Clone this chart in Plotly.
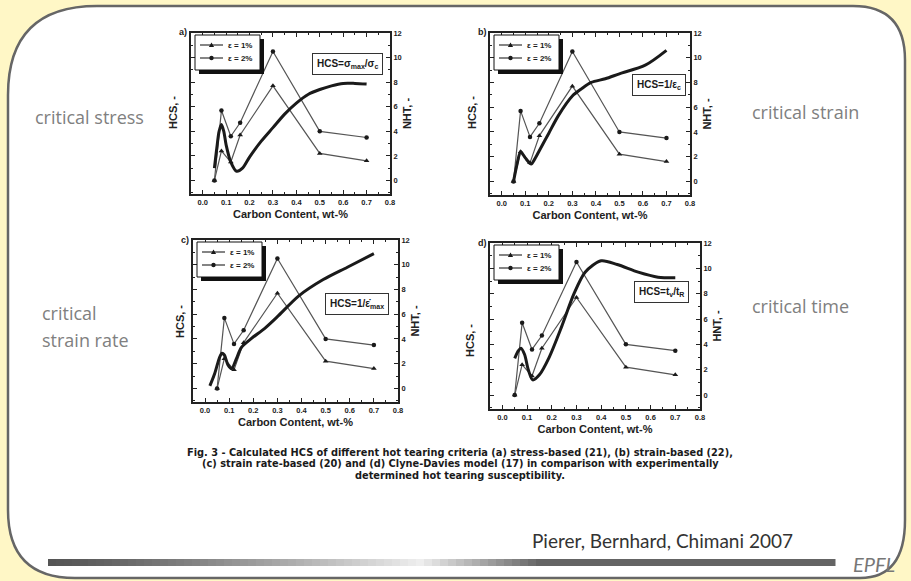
import plotly.graph_objects as go

W, H = 911, 581

def px(x):
    return x / W

def py(y):
    return 1 - y / H

# ---------------- data ----------------
carbon = [0.05, 0.08, 0.12, 0.16, 0.30, 0.50, 0.70]
nht_eps1 = [0.0, 2.4, 1.5, 3.7, 7.7, 2.2, 1.6]
nht_eps2 = [0.0, 5.7, 3.6, 4.7, 10.5, 4.0, 3.5]

hcs_a_x = [0.05, 0.06, 0.07, 0.08, 0.09, 0.10, 0.12, 0.145, 0.17, 0.20, 0.25, 0.30, 0.35, 0.40, 0.45, 0.50, 0.55, 0.60, 0.65, 0.70]
hcs_a_y = [1.0, 2.6, 4.0, 4.55, 4.0, 2.9, 1.5, 0.75, 1.0, 1.9, 3.2, 4.3, 5.4, 6.3, 7.0, 7.4, 7.7, 7.9, 7.9, 7.85]

hcs_b_x = [0.05, 0.065, 0.08, 0.10, 0.125, 0.14, 0.16, 0.20, 0.24, 0.30, 0.34, 0.38, 0.44, 0.50, 0.61, 0.70]
hcs_b_y = [0.0, 1.4, 2.4, 1.9, 1.4, 1.8, 2.5, 3.9, 5.3, 6.9, 7.5, 8.0, 8.3, 8.7, 9.4, 10.6]

hcs_c_x = [0.02, 0.04, 0.06, 0.07, 0.08, 0.095, 0.11, 0.13, 0.15, 0.19, 0.25, 0.30, 0.39, 0.49, 0.59, 0.70]
hcs_c_y = [0.2, 1.2, 2.5, 2.85, 2.7, 1.9, 1.6, 2.4, 3.3, 4.0, 4.9, 5.8, 7.5, 8.8, 9.8, 10.9]

hcs_d_x = [0.05, 0.065, 0.075, 0.09, 0.105, 0.123, 0.15, 0.19, 0.24, 0.29, 0.335, 0.40, 0.465, 0.55, 0.63, 0.70]
hcs_d_y = [2.9, 3.5, 3.7, 3.2, 2.0, 1.2, 1.6, 3.0, 5.4, 8.0, 9.7, 10.6, 10.3, 9.7, 9.3, 9.25]

xtick_vals = [0.0, 0.1, 0.2, 0.3, 0.4, 0.5, 0.6, 0.7, 0.8]
xtick_text = ["0.0", "0.1", "0.2", "0.3", "0.4", "0.5", "0.6", "0.7", "0.8"]
ytick_vals = [0, 2, 4, 6, 8, 10, 12]

panel_letters = ["a)", "b)", "c)", "d)"]
formulas = ["HCS=σ<sub>max</sub>/σ<sub>c</sub>", "HCS=1/ε<sub>c</sub>",
            "HCS=1/ε̇<sub>max</sub>", "HCS=t<sub>v</sub>/t<sub>R</sub>"]
right_titles = ["NHT, -", "NHT, -", "NHT, -", "HNT, -"]
legend_names = ["ε = 1%", "ε = 2%"]
side_labels = ["critical stress", "critical strain", "critical", "strain rate", "critical time"]
caption_lines = [
    "Fig. 3 - Calculated HCS of different hot tearing criteria (a) stress-based (21), (b) strain-based (22),",
    "(c) strain rate-based (20) and (d) Clyne-Davies model (17) in comparison with experimentally",
    "determined hot tearing susceptibility.",
]
source = "Pierer, Bernhard, Chimani 2007"

hcs_x = [hcs_a_x, hcs_b_x, hcs_c_x, hcs_d_x]
hcs_y = [hcs_a_y, hcs_b_y, hcs_c_y, hcs_d_y]

# ---------------- layout geometry (pixels) ----------------
# (left, right, top, bottom)
boxes = [(191, 390, 33, 194), (490, 690, 33, 195), (193, 398, 240, 402), (490, 700, 243, 409)]
formula_pos = [(347, 64), (659, 85), (357, 304), (661, 292)]
hcs_title_pos = [(173, 113), (472, 113), (180, 322), (470, 340)]
letter_pos = [(183, 32), (482, 32), (185, 240), (482, 243)]

FONT = "Liberation Sans"
INK = "#1a1a1a"
fig = go.Figure()

for i in range(4):
    xa = "x" if i == 0 else f"x{i+1}"
    ya = "y" if i == 0 else f"y{i+1}"
    fig.add_trace(go.Scatter(x=carbon, y=nht_eps1, xaxis=xa, yaxis=ya, mode="lines+markers",
                             name=legend_names[0], showlegend=False,
                             line=dict(color="#555555", width=1.2),
                             marker=dict(symbol="triangle-up", size=5, color=INK)))
    fig.add_trace(go.Scatter(x=carbon, y=nht_eps2, xaxis=xa, yaxis=ya, mode="lines+markers",
                             name=legend_names[1], showlegend=False,
                             line=dict(color="#555555", width=1.2),
                             marker=dict(symbol="circle", size=4.5, color=INK)))
    fig.add_trace(go.Scatter(x=hcs_x[i], y=hcs_y[i], xaxis=xa, yaxis=ya, mode="lines",
                             line=dict(color=INK, width=3, shape="spline", smoothing=0.8),
                             showlegend=False, hoverinfo="skip"))

layout = dict(
    template="none",
    width=W, height=H, margin=dict(l=0, r=0, t=0, b=0, pad=0),
    paper_bgcolor="#FFF7C6", plot_bgcolor="rgba(0,0,0,0)",
    showlegend=False,
)

tickfont = dict(family=FONT, size=7.5, color="#222", weight="bold")
for i, (l, r, t, b) in enumerate(boxes):
    sx = "" if i == 0 else str(i + 1)
    layout[f"xaxis{sx}"] = dict(
        domain=[px(l), px(r)], anchor=f"y{sx}", range=[-0.05, 0.8], automargin=False,
        tickvals=xtick_vals, ticktext=xtick_text, ticks="inside", ticklen=4, tickwidth=1,
        tickcolor="#222",
        minor=dict(dtick=0.05, ticks="inside", ticklen=2, tickcolor="#222"),
        showline=True, linecolor="#222", linewidth=1.8, mirror="ticks", showgrid=False,
        zeroline=False, tickfont=tickfont,
        title=dict(text="Carbon Content, wt-%", font=dict(family=FONT, size=11, color="#222", weight="bold"),
                   standoff=4),
    )
    layout[f"yaxis{sx}"] = dict(
        domain=[py(b), py(t)], anchor=f"x{sx}", side="right", range=[-1.1, 12], automargin=False,
        tickvals=ytick_vals, ticks="inside", ticklen=4, tickwidth=1, tickcolor="#222",
        minor=dict(dtick=1, ticks="inside", ticklen=2, tickcolor="#222"),
        showline=True, linecolor="#222", linewidth=1.8, mirror="ticks", showgrid=False,
        zeroline=False, tickfont=tickfont,
        title=dict(text=right_titles[i], font=dict(family=FONT, size=11, color="#222", weight="bold"),
                   standoff=3),
    )

fig.update_layout(**layout)

# ---------------- shapes ----------------
shapes = []
# white rounded card
pts = [(8, 95), (8, 6), (97, 6), (853, 6), (905, 6), (905, 60), (905, 520), (905, 578), (860, 578),
       (75, 578), (8, 578), (8, 510)]
def P(p):
    return f"{px(p[0]):.5f},{py(p[1]):.5f}"
path = (f"M {P(pts[0])} Q {P(pts[1])} {P(pts[2])} L {P(pts[3])} Q {P(pts[4])} {P(pts[5])} "
        f"L {P(pts[6])} Q {P(pts[7])} {P(pts[8])} L {P(pts[9])} Q {P(pts[10])} {P(pts[11])} Z")
shapes.append(dict(type="path", xref="paper", yref="paper", path=path, fillcolor="white",
                   line=dict(color="#666", width=2.5), layer="below"))

ann = []
# Origin-style legend boxes with drop shadow
def rect(x0, y0, x1, y1, fill, lw=0, lc="#111"):
    return dict(type="rect", xref="paper", yref="paper", x0=px(x0), x1=px(x1), y0=py(y1), y1=py(y0),
                fillcolor=fill, line=dict(width=lw, color=lc), layer="above")

for (l, r, t, b) in boxes:
    bx0, by0, bx1, by1 = l + 4, t + 2, l + 69, t + 37
    shapes.append(rect(bx0 + 4, by0 + 4, bx1 + 4, by1 + 4, "#111"))
    shapes.append(rect(bx0, by0, bx1, by1, "white", 1, "#111"))
    for k, yy in enumerate([t + 12, t + 25]):
        shapes.append(dict(type="line", xref="paper", yref="paper", x0=px(l + 9), x1=px(l + 32),
                           y0=py(yy), y1=py(yy), line=dict(color="#333", width=1.2), layer="above"))
        cx = l + 20.5
        if k == 0:
            tri = (f"M {px(cx-2.6):.5f},{py(yy+2):.5f} L {px(cx+2.6):.5f},{py(yy+2):.5f} "
                   f"L {px(cx):.5f},{py(yy-2.6):.5f} Z")
            shapes.append(dict(type="path", xref="paper", yref="paper", path=tri, fillcolor=INK,
                               line=dict(width=0), layer="above"))
        else:
            shapes.append(dict(type="circle", xref="paper", yref="paper", x0=px(cx - 2.2), x1=px(cx + 2.2),
                               y0=py(yy + 2.2), y1=py(yy - 2.2), fillcolor=INK, line=dict(width=0),
                               layer="above"))
        ann.append(dict(x=px(l + 35), y=py(yy), xref="paper", yref="paper", text=legend_names[k],
                        xanchor="left", yanchor="middle", showarrow=False,
                        font=dict(family=FONT, size=8, color=INK, weight="bold")))

# gradient bar at the bottom
def lerp(a, b, f):
    return int(round(a + (b - a) * f))
dark, light = 85, 238
x = 48
while x < 835:
    x1 = min(x + 8, 835)
    xm = (x + x1) / 2
    if xm < 420:
        f = (xm - 48) / 372
        g = lerp(dark, light, f ** 1.3)
    elif xm < 540:
        f = (xm - 420) / 120
        g = lerp(light, dark + 15, f)
    else:
        g = dark + 15
    shapes.append(dict(type="rect", xref="paper", yref="paper", x0=px(x), x1=px(x1 + 0.5),
                       y0=py(566), y1=py(559), fillcolor=f"rgb({g},{g},{g})", line=dict(width=0),
                       layer="below"))
    x = x1

# ---------------- annotations ----------------
def A(x, y, text, font, xa="center", ya="middle", **kw):
    d = dict(x=px(x), y=py(y), xref="paper", yref="paper", text=text, showarrow=False,
             xanchor=xa, yanchor=ya, font=font)
    d.update(kw)
    return d

for i in range(4):
    ann.append(A(formula_pos[i][0], formula_pos[i][1], formulas[i],
                 dict(family=FONT, size=10, color=INK, weight="bold"),
                 bgcolor="white", bordercolor="#333", borderwidth=1, borderpad=4))
    ann.append(A(hcs_title_pos[i][0], hcs_title_pos[i][1], "HCS, -",
                 dict(family=FONT, size=11, color="#222", weight="bold"), textangle=-90))
    ann.append(A(letter_pos[i][0], letter_pos[i][1], panel_letters[i],
                 dict(family=FONT, size=9, color="#222", weight="bold")))

side_font = dict(family="Open Sans", size=18, color="#808080")
ann.append(A(33, 117, side_labels[0], side_font, xa="left"))
ann.append(A(750, 112, side_labels[1], side_font, xa="left"))
ann.append(A(40, 313, side_labels[2], side_font, xa="left"))
ann.append(A(40, 340, side_labels[3], side_font, xa="left"))
ann.append(A(750, 306, side_labels[4], side_font, xa="left"))

cap_font = dict(family="DejaVu Sans", size=9.8, color=INK, weight="bold")
for k, line in enumerate(caption_lines):
    ann.append(A(460, 452 + 11.5 * k, line, cap_font))
ann.append(A(795, 540, source, dict(family="Lato", size=19, color="#333"), xa="right"))
ann.append(A(897, 564, "<i>EPFL</i>", dict(family="Lato", size=20, color="#777"), xa="right"))

fig.update_layout(shapes=shapes, annotations=ann)
fig.write_html("out.html", config={"displayModeBar": False},
               post_script="document.body.style.margin='0px';")
